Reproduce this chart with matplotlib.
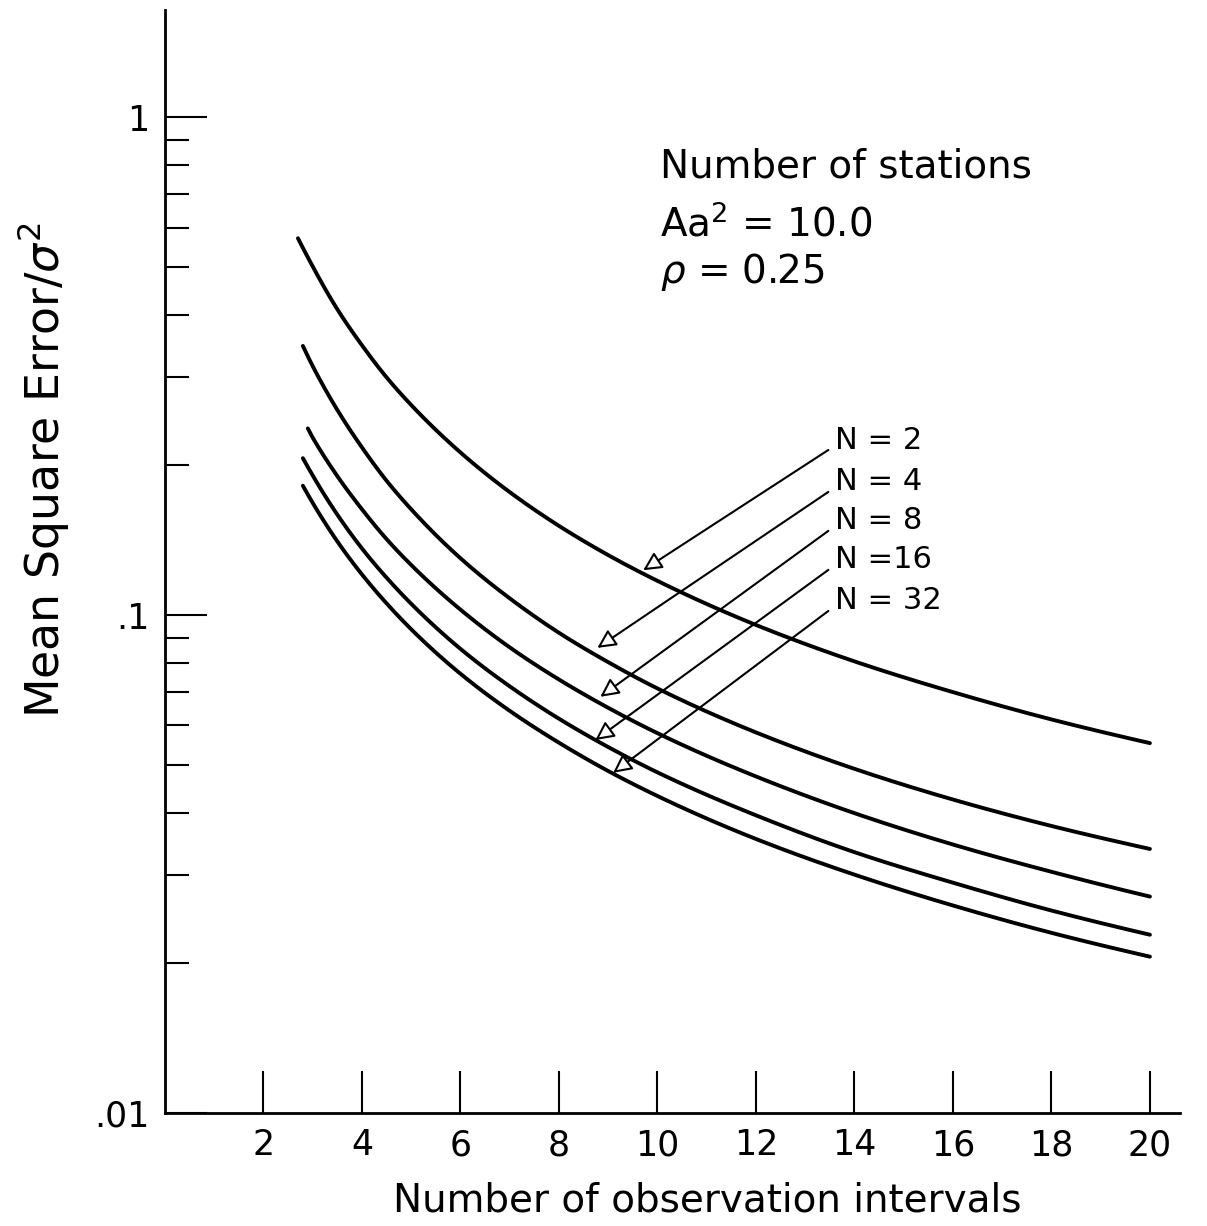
import numpy as np
import matplotlib
matplotlib.use("Agg")
import matplotlib.pyplot as plt
from matplotlib.ticker import FixedLocator, NullFormatter

# values (mean square error / sigma^2)
labels = ["N = 2", "N = 4", "N = 8", "N =16", "N = 32"]
x_n2 = [2.7, 3, 3.5, 4, 4.5, 5, 6, 7, 8, 9, 10, 12, 14, 16, 18, 20]
y_n2 = [0.571, 0.501, 0.411, 0.348, 0.300, 0.264, 0.212, 0.1765, 0.151, 0.1319, 0.1171,
        0.0955, 0.0807, 0.0700, 0.0617, 0.0553]
x_n4 = [2.8, 3, 3.5, 4, 4.5, 5, 6, 7, 8, 9, 10, 12, 14, 16, 18, 20]
y_n4 = [0.347, 0.316, 0.258, 0.217, 0.186, 0.163, 0.130, 0.108, 0.0921, 0.0804, 0.0712,
        0.0581, 0.0491, 0.0426, 0.0377, 0.0339]
x_n8 = [2.9, 3, 3.5, 4, 4.5, 5, 6, 7, 8, 9, 10, 12, 14, 16, 18, 20]
y_n8 = [0.237, 0.227, 0.190, 0.163, 0.142, 0.126, 0.1025, 0.0861, 0.0742, 0.0651, 0.0579,
        0.0474, 0.0400, 0.0346, 0.0305, 0.0272]
x_n16 = [2.8, 3, 3.5, 4, 4.5, 5, 6, 7, 8, 9, 10, 12, 14, 16, 18, 20]
y_n16 = [0.2065, 0.1906, 0.159, 0.136, 0.1188, 0.1053, 0.0855, 0.0719, 0.0619, 0.0543, 0.0483,
         0.0396, 0.0334, 0.0290, 0.0255, 0.0228]
x_n32 = [2.8, 3, 3.5, 4, 4.5, 5, 6, 7, 8, 9, 10, 12, 14, 16, 18, 20]
y_n32 = [0.1818, 0.1679, 0.1405, 0.1206, 0.1055, 0.0936, 0.0762, 0.0642, 0.0554, 0.0486, 0.0433,
         0.0355, 0.0301, 0.0261, 0.0230, 0.0206]

# arrow tips on the curves and the label positions
tip_x = [9.71, 8.78, 8.84, 8.74, 9.10]
tip_y = [0.123, 0.0859, 0.0685, 0.0561, 0.0482]
lab_y = [0.2246, 0.185, 0.1545, 0.129, 0.1067]

xticks = [2, 4, 6, 8, 10, 12, 14, 16, 18, 20]


def smooth(xs, ys, n=25):
    # hermite curve through the read points in log-log space, just to draw the line smooth
    x = np.log10(np.array(xs, float))
    y = np.log10(np.array(ys, float))
    m = np.zeros_like(y)
    m[1:-1] = (y[2:] - y[:-2]) / (x[2:] - x[:-2])
    m[0] = (y[1] - y[0]) / (x[1] - x[0])
    m[-1] = (y[-1] - y[-2]) / (x[-1] - x[-2])
    px, py = [], []
    for i in range(len(x) - 1):
        h = x[i + 1] - x[i]
        t = np.linspace(0, 1, n, endpoint=False)
        h00 = 2 * t**3 - 3 * t**2 + 1
        h10 = t**3 - 2 * t**2 + t
        h01 = -2 * t**3 + 3 * t**2
        h11 = t**3 - t**2
        px.extend(x[i] + t * h)
        py.extend(h00 * y[i] + h10 * h * m[i] + h01 * y[i + 1] + h11 * h * m[i + 1])
    px.append(x[-1])
    py.append(y[-1])
    return 10 ** np.array(px), 10 ** np.array(py)


plt.rcParams['font.family'] = ['DejaVu Sans']
fig = plt.figure(figsize=(12.07, 12.26), dpi=100)
ax = fig.add_axes([0.1367, 0.0922, 0.8409, 0.8996])

series = [(x_n2, y_n2), (x_n4, y_n4), (x_n8, y_n8), (x_n16, y_n16), (x_n32, y_n32)]
for xs, ys in series:
    sx, sy = smooth(xs, ys)
    ax.plot(sx, sy, color='black', lw=2.8, solid_capstyle='round')

ax.set_yscale('log')
ax.set_xlim(0, 20.61)
ax.set_ylim(0.01, 1.64)

for s in ['top', 'right']:
    ax.spines[s].set_visible(False)
for s in ['left', 'bottom']:
    ax.spines[s].set_linewidth(2.0)

ax.xaxis.set_major_locator(FixedLocator(xticks))
ax.set_xticklabels([str(t) for t in xticks])
ax.yaxis.set_major_locator(FixedLocator([0.01, 0.1, 1]))
ax.set_yticklabels(['.01', '.1', '1'])
minor = [m * 0.01 for m in range(2, 10)] + [m * 0.1 for m in range(2, 10)]
ax.yaxis.set_minor_locator(FixedLocator(minor))
ax.yaxis.set_minor_formatter(NullFormatter())

ax.tick_params(axis='x', which='major', direction='in', length=30, width=1.5,
               labelsize=25, pad=11)
ax.tick_params(axis='y', which='major', direction='in', length=30, width=1.5,
               labelsize=25, pad=11)
ax.tick_params(axis='y', which='minor', direction='in', length=17, width=1.5)
ax.tick_params(axis='x', which='minor', bottom=False)

ax.set_xlabel('Number of observation intervals', fontsize=28, va='top')
ax.xaxis.set_label_coords(0.534, -0.062)
ax.set_ylabel(r'Mean Square Error/$\sigma^2$', fontsize=33)
ax.yaxis.set_label_coords(-0.093, 0.583)

ax.text(10.06, 0.794, 'Number of stations', fontsize=28, va='center', ha='left')
ax.text(10.06, 0.607, r'Aa$^2$ = 10.0', fontsize=28, va='center', ha='left')
ax.text(10.06, 0.489, r'$\rho$ = 0.25', fontsize=28, va='center', ha='left')

for lab, tx, ty, ly in zip(labels, tip_x, tip_y, lab_y):
    ax.annotate('', xy=(tx, ty), xytext=(13.47, ly * 0.955),
                arrowprops=dict(arrowstyle='-|>', fc='white', ec='black',
                                lw=1.5, mutation_scale=28, shrinkA=0, shrinkB=0))
    ax.text(13.61, ly, lab, fontsize=22, va='center', ha='left')

fig.savefig('out.png', dpi=100)
